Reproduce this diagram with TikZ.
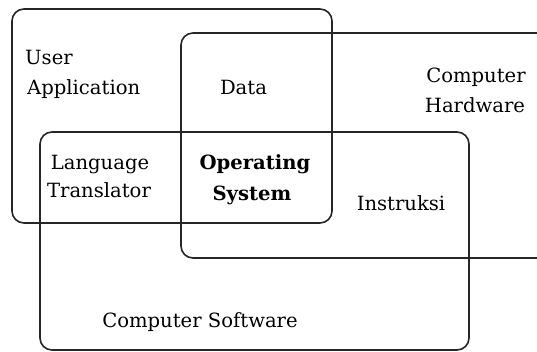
\documentclass[tikz,border=0pt]{standalone}
\usepackage{fontspec}
\setmainfont{DejaVu Serif}
\begin{document}
\begin{tikzpicture}[x=1pt,y=-1pt,
  box/.style={draw=black!85,line width=1.6pt,rounded corners=12pt,inner sep=0pt},
  lbl/.style={inner sep=0pt,font=\fontsize{19.6}{23}\selectfont},
  blbl/.style={inner sep=0pt,font=\fontsize{19.6}{23}\selectfont\bfseries}]
\useasboundingbox (0,0) rectangle (537,352);
\clip (0,0) rectangle (537,352);
\fill[white] (0,0) rectangle (537,352);
% boxes
\node[box,minimum width=320pt,minimum height=214pt] (ua) at (172,116) {};
\node[box,minimum width=440pt,minimum height=225pt] (hw) at (401,145.5) {};
\node[box,minimum width=429pt,minimum height=218pt] (sw) at (254.5,241) {};
% labels
\node[lbl,anchor=base west] (ua1) at (25,65) {User};
\node[lbl,anchor=base west] (ua2) at (27,95) {Application};
\node[lbl,anchor=base] (data) at (243.5,95) {Data};
\node[lbl,anchor=base] (hw1) at (476,83) {Computer};
\node[lbl,anchor=base] (hw2) at (475,113) {Hardware};
\node[lbl,anchor=base] (lt1) at (100,170) {Language};
\node[lbl,anchor=base] (lt2) at (99,198) {Translator};
\node[blbl,anchor=base] (os1) at (255,170) {Operating};
\node[blbl,anchor=base] (os2) at (252,201) {System};
\node[lbl,anchor=base] (ins) at (401,211) {Instruksi};
\node[lbl,anchor=base] (cs) at (200,327) {Computer Software};
\end{tikzpicture}
\end{document}
